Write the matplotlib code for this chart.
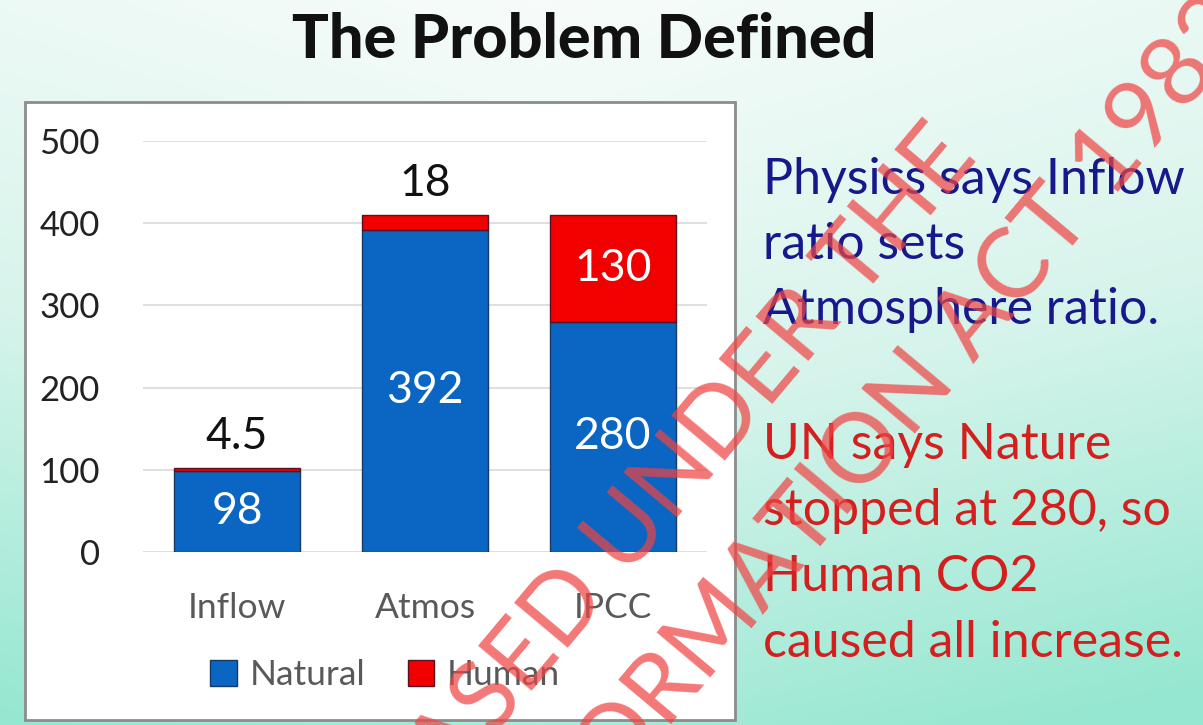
import numpy as np
import matplotlib
matplotlib.use("Agg")
from matplotlib import pyplot as plt
from matplotlib.patches import Rectangle
from matplotlib.colors import LinearSegmentedColormap

plt.rcParams["font.family"] = ["Lato", "DejaVu Sans"]

# chart data
categories = ["Inflow", "Atmos", "IPCC"]
natural = [98, 392, 280]
human = [4.5, 18, 130]
human_labels = ["4.5", "18", "130"]
series_names = ["Natural", "Human"]
y_ticks = [0, 100, 200, 300, 400, 500]

blue_lines = ["Physics says Inflow", "ratio sets", "Atmosphere ratio."]
red_lines = ["UN says Nature", "stopped at 280, so", "Human CO2", "caused all increase."]

W, H = 1203, 725
fig = plt.figure(figsize=(W / 100, H / 100), dpi=100)


def fx(x):
    return x / W


def fy(y):
    return 1 - y / H


# background gradient (white-ish top to mint bottom)
bg = fig.add_axes([0, 0, 1, 1], zorder=-10)
yy, xx = np.mgrid[0:1:200j, 0:1:300j]
t = np.clip(0.85 * yy ** 1.1 + 0.2 * np.abs(xx - 0.45) / 0.55, 0, 1)
cmap = LinearSegmentedColormap.from_list("bg", ["#f7fcfa", "#d6f4eb", "#96e7d1"])
bg.imshow(t, cmap=cmap, aspect="auto", extent=[0, 1, 0, 1], origin="upper")
bg.set_axis_off()

# white chart panel
fig.patches.append(Rectangle((fx(25), fy(720)), fx(710), 618 / H, transform=fig.transFigure,
                             facecolor="white", edgecolor="#8c8c8c", linewidth=2, zorder=-5))

ax = fig.add_axes([fx(143), fy(552), fx(564), 411 / H])
ax.set_facecolor("none")
x = np.arange(len(categories))
b1 = ax.bar(x, natural, width=0.665, color="#0a66c2", edgecolor="#163a66", linewidth=1, zorder=3,
            label=series_names[0])
b2 = ax.bar(x, human, width=0.665, bottom=natural, color="#f20000", edgecolor="#5a1020", linewidth=1,
            zorder=3, label=series_names[1])

ax.set_xlim(-0.5, 2.5)
ax.set_ylim(0, 500)
ax.set_yticks(y_ticks)
ax.set_yticklabels([str(v) for v in y_ticks], fontsize=25, color="#222222")
ax.set_xticks(x)
ax.set_xticklabels(categories, fontsize=25.5, color="#595959")
ax.tick_params(axis="both", length=0)
ax.tick_params(axis="y", pad=31)
ax.tick_params(axis="x", pad=29)
ax.grid(axis="y", color="#d9d9d9", linewidth=1.2, zorder=0)
for s in ax.spines.values():
    s.set_visible(False)

# value labels
for i, (n, h) in enumerate(zip(natural, human)):
    ax.text(i, n / 2, str(n), ha="center", va="center", color="white", fontsize=32, zorder=5)
    if h > 50:
        ax.text(i, n + h / 2, human_labels[i], ha="center", va="center", color="white", fontsize=32, zorder=5)
    else:
        ax.annotate(human_labels[i], (i, n + h), xytext=(0, 8), textcoords="offset points",
                    ha="center", va="bottom", color="#111111", fontsize=32, zorder=5)

ax.legend(handles=[b1, b2], loc="center", bbox_to_anchor=(fx(385), fy(675)), bbox_transform=fig.transFigure,
          ncol=2, frameon=False, fontsize=25.5, handlelength=0.75, handleheight=0.75, handletextpad=0.35,
          columnspacing=1.2, labelcolor="#595959")

fig.text(fx(584), fy(40), "The Problem Defined", ha="center", va="center", fontsize=44,
         fontweight="black", color="#111111")

for k, line in enumerate(blue_lines):
    fig.text(fx(763), fy(180 + 65 * k), line, ha="left", va="center", fontsize=36, color="#18188c")
for k, line in enumerate(red_lines):
    fig.text(fx(763), fy(445 + 66 * k), line, ha="left", va="center", fontsize=36, color="#d41f1f")

# watermark
wm = dict(rotation=50, rotation_mode="anchor", fontsize=70, fontweight="normal", color="#ef4444",
          alpha=0.72, ha="right", va="center", zorder=20)
fig.text(fx(958), fy(140), "RELEASED UNDER THE", **wm)
fig.text(fx(1235), fy(10), "FREEDOM OF INFORMATION ACT 1982", **wm)

fig.savefig("out.png", dpi=100)
